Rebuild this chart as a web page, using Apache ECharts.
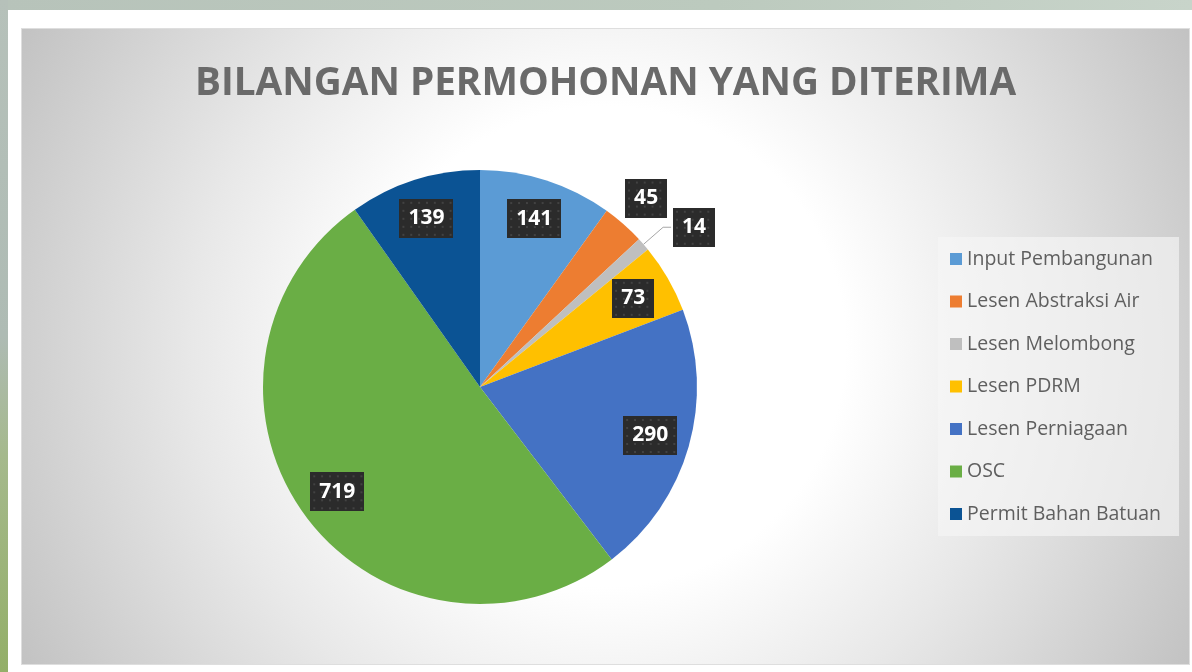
<!DOCTYPE html>
<html><head><meta charset="utf-8">
<script src="https://cdn.jsdelivr.net/npm/echarts@6/dist/echarts.min.js"></script>
<style>
html,body{margin:0;padding:0;background:#fff;width:1192px;height:672px;overflow:hidden;position:relative;}
#topbar{position:absolute;left:0;top:0;width:1192px;height:10px;background:linear-gradient(to right,#b7c3ba,#bccabe 60%,#c8d4ca);}
#leftbar{position:absolute;left:0;top:0;width:8px;height:672px;background:linear-gradient(to bottom,#b6c1ba 0%,#aebbb4 50%,#a5b98c 68%,#93af68 100%);}
#frame{position:absolute;left:21px;top:28px;width:1167px;height:635px;border:1px solid #dedede;}
#chart{width:1167px;height:635px;}
</style></head>
<body>
<div id="topbar"></div><div id="leftbar"></div>
<div id="frame"><div id="chart"></div></div>
<script>
const titleText = 'BILANGAN PERMOHONAN YANG DITERIMA';
const categories = ['Input Pembangunan','Lesen Abstraksi Air','Lesen Melombong','Lesen PDRM','Lesen Perniagaan','OSC','Permit Bahan Batuan'];
const values = [141, 45, 14, 73, 290, 719, 139];

const palette = ['#5b9bd5','#ed7d31','#bfbfbf','#ffc000','#4472c4','#6aae45','#0b5394'];

function boxBg(w, h) {
  const c = document.createElement('canvas');
  c.width = w; c.height = h;
  const g = c.getContext('2d');
  g.fillStyle = '#2b2b2b'; g.fillRect(0, 0, w, h);
  g.fillStyle = 'rgba(255,255,255,0.14)';
  for (let y = 4; y < h; y += 8) for (let x = 4; x < w; x += 8) {
    g.beginPath(); g.arc(x, y, 1.1, 0, Math.PI * 2); g.fill();
  }
  return c;
}
const bg3 = boxBg(55, 39), bg2 = boxBg(43, 39);

const chart = echarts.init(document.getElementById('chart'));
const baseData = categories.map((n, i) => ({ name: n, value: values[i] }));
const overlayData = categories.map((n, i) => {
  const item = { name: n, value: values[i],
    label: { backgroundColor: { image: String(values[i]).length > 2 ? bg3 : bg2 } } };
  if (n === 'Lesen Abstraksi Air') {
    item.label.position = 'outside';
    item.labelLine = { show: false, length: 35, length2: -26.6 };
  }
  if (n === 'Lesen Melombong') {
    item.label.position = 'outside';
    item.label.distanceToLabelLine = 2;
    item.labelLine = { show: true, length: 26, length2: 8, lineStyle: { color: '#a6a6a6', width: 1 } };
  }
  return item;
});

chart.setOption({
  animation: false,
  color: palette,
  backgroundColor: { type: 'radial', x: 0.5, y: 0.5, r: 1.05,
    colorStops: [
      { offset: 0, color: '#ffffff' }, { offset: 0.36, color: '#ffffff' },
      { offset: 0.62, color: '#e8e8e8' }, { offset: 0.8, color: '#d6d6d6' },
      { offset: 1, color: '#c2c2c2' }] },
  title: { text: titleText, left: 'center', top: 30,
    textStyle: { fontFamily: 'Open Sans', fontWeight: 'bold', fontSize: 38.7, color: '#6a6a6a' } },
  legend: {
    orient: 'vertical', left: 916, top: 208,
    padding: [12, 18, 12, 12], itemGap: 22.5, itemWidth: 12, itemHeight: 12,
    icon: 'rect', backgroundColor: 'rgba(246,246,246,0.65)',
    data: categories,
    textStyle: { fontFamily: 'Open Sans', fontSize: 19.5, color: '#5f5f5f', lineHeight: 20 }
  },
  series: [
    { type: 'pie', center: [458, 358], radius: 217, startAngle: 90, clockwise: true,
      silent: true, data: baseData, label: { show: false }, labelLine: { show: false } },
    { type: 'pie', center: [458, 358], radius: [131, 217], startAngle: 90, clockwise: true,
      silent: true, avoidLabelOverlap: false, data: overlayData,
      itemStyle: { color: 'rgba(0,0,0,0)' },
      label: { show: true, position: 'inside', formatter: '{c}',
        fontFamily: 'Open Sans', fontWeight: 'bold', fontSize: 21, color: '#ffffff',
        lineHeight: 23, padding: [8, 9],
        shadowColor: 'rgba(0,0,0,0.45)', shadowBlur: 5, shadowOffsetX: 2, shadowOffsetY: 3 },
      labelLine: { show: false }
    }
  ]
});
</script>
</body></html>
